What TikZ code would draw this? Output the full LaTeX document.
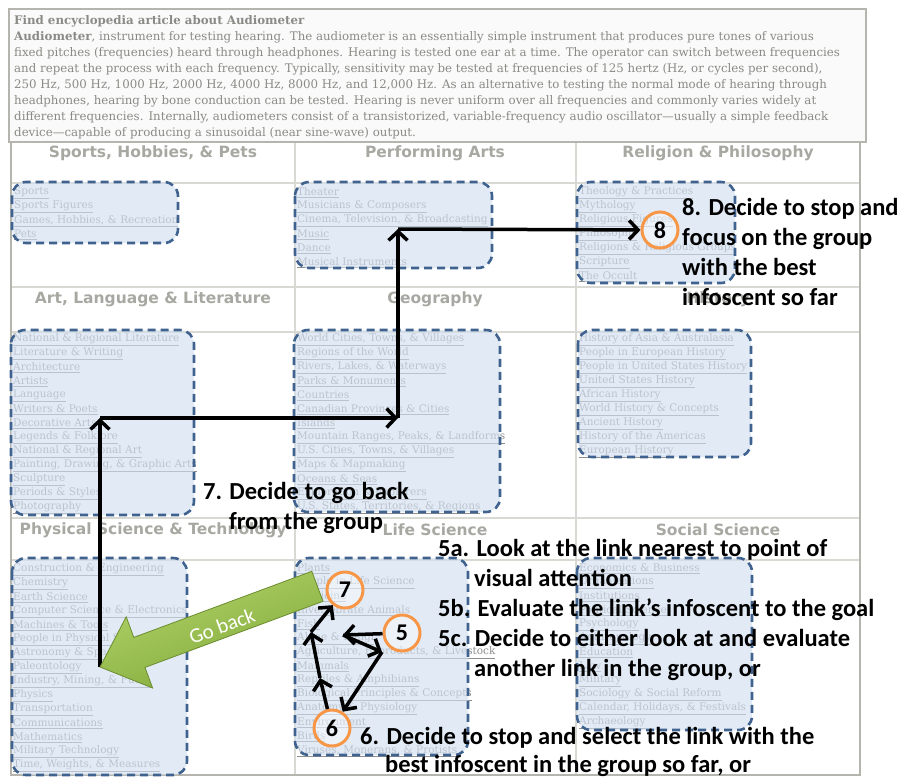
\documentclass[tikz,border=0pt]{standalone}
\usepackage{fontspec}
\usetikzlibrary{arrows.meta}

\newfontfamily\notefont{Carlito}
\newfontfamily\headfont{DejaVu Sans}
\newfontfamily\pagefont{DejaVu Serif}

\definecolor{gridgray}{HTML}{D9D9D3}
\definecolor{framegray}{HTML}{B5B5AD}
\definecolor{headgray}{HTML}{A8A8A2}
\definecolor{linkgray}{HTML}{8E8E8E}
\definecolor{pagegray}{HTML}{8A8A86}
\definecolor{boxfill}{HTML}{D3E0F0}
\definecolor{boxline}{HTML}{40628E}
\definecolor{ringorange}{HTML}{F79646}
\definecolor{golight}{HTML}{B4D56C}
\definecolor{godark}{HTML}{7EA636}

\tikzset{
  pagetext/.style={font=\pagefont\fontsize{11.8}{16}\selectfont, text=pagegray, inner sep=0pt},
  headtext/.style={font=\headfont\bfseries\fontsize{15.5}{18}\selectfont, text=headgray, inner sep=0pt},
  linktext/.style={font=\pagefont\fontsize{10.5}{14}\selectfont, text=linkgray, inner sep=0pt, anchor=west},
  groupbox/.style={draw=boxline, fill=boxfill, fill opacity=0.65, line width=2.6pt,
    dash pattern=on 8pt off 5pt, rounded corners=14pt},
  ring/.style={circle, draw=ringorange, line width=3pt, fill=white, fill opacity=0.35, text opacity=1,
    minimum size=36pt, inner sep=0pt, font=\notefont\bfseries\fontsize{24}{28}\selectfont},
  note/.style={font=\notefont\bfseries\fontsize{24.5}{30}\selectfont, inner sep=0pt, anchor=base west},
  walk/.style={line width=3.5pt, -{Straight Barb[length=9pt, width=19pt]}},
}

% one list of links, one per line
\newcommand{\linklist}[4]{%
  \foreach \t [count=\i] in {#4}
    \node[linktext] (#1\i) at (#2, {#3+14*(\i-1)}) {\underline{\t}};
}

\begin{document}
\begin{tikzpicture}[x=1pt, y=-1pt]
\useasboundingbox (0,0) rectangle (907,777);

%----- ARTICLE PANEL -----
\draw[framegray, line width=2pt, fill=black!2] (9,9) rectangle (866,142);
\node[pagetext, anchor=north west, align=left] (article) at (14,15) {%
  {\bfseries Find encyclopedia article about Audiometer}\\
  {\bfseries Audiometer}, instrument for testing hearing. The audiometer is an essentially simple instrument that produces pure tones of various\\
  fixed pitches (frequencies) heard through headphones. Hearing is tested one ear at a time. The operator can switch between frequencies\\
  and repeat the process with each frequency. Typically, sensitivity may be tested at frequencies of 125 hertz (Hz, or cycles per second),\\
  250 Hz, 500 Hz, 1000 Hz, 2000 Hz, 4000 Hz, 8000 Hz, and 12,000 Hz. As an alternative to testing the normal mode of hearing through\\
  headphones, hearing by bone conduction can be tested. Hearing is never uniform over all frequencies and commonly varies widely at\\
  different frequencies. Internally, audiometers consist of a transistorized, variable-frequency audio oscillator—usually a simple feedback\\
  device—capable of producing a sinusoidal (near sine-wave) output.};

%----- CATEGORY GRID -----
\draw[gridgray, line width=1.2pt] (295,142) -- (295,775) (576,142) -- (576,775);
\foreach \y in {183,287,332,518,560}
  \draw[gridgray, line width=1.2pt] (11,\y) -- (860,\y);
\draw[framegray, line width=2pt] (11,142) rectangle (860,775);

% headers
\node[headtext] (hsports) at (153,153) {Sports, Hobbies, \& Pets};
\node[headtext] (hperform) at (435,153) {Performing Arts};
\node[headtext] (hreligion) at (718,153) {Religion \& Philosophy};
\node[headtext] (hart) at (153,299) {Art, Language \& Literature};
\node[headtext] (hgeo) at (435,299) {Geography};
\node[headtext] (hhistory) at (718,299) {History};
\node[headtext] (hphys) at (153,530) {Physical Science \& Technology};
\node[headtext] (hlife) at (435,530) {Life Science};
\node[headtext] (hsocial) at (718,530) {Social Science};

%----- LINKS -----
\linklist{sp}{14}{193}{Sports, Sports Figures, {Games, Hobbies, \& Recreation}, Pets}
\linklist{pa}{297}{193}{Theater, Musicians \& Composers, {Cinema, Television, \& Broadcasting}, Music, Dance, Musical Instruments}
\linklist{rp}{579}{193}{Theology \& Practices, Mythology, Religious Figures, Philosophy, Religions \& Religious Groups, Scripture, The Occult}
\linklist{al}{13}{340}{National \& Regional Literature, Literature \& Writing, Architecture, Artists, Language, Writers \& Poets, Decorative Arts, Legends \& Folklore, National \& Regional Art, {Painting, Drawing, \& Graphic Arts}, Sculpture, Periods \& Styles, Photography}
\linklist{ge}{297}{340}{{World Cities, Towns, \& Villages}, Regions of the World, {Rivers, Lakes, \& Waterways}, Parks \& Monuments, Countries, Canadian Provinces \& Cities, Islands, {Mountain Ranges, Peaks, \& Landforms}, {U.S. Cities, Towns, \& Villages}, Maps \& Mapmaking, Oceans \& Seas, Exploration \& Explorers, {U.S. States, Territories, \& Regions}}
\linklist{hi}{579}{340}{History of Asia \& Australasia, People in European History, People in United States History, United States History, African History, World History \& Concepts, Ancient History, History of the Americas, European History}
\linklist{ps}{13}{570}{Construction \& Engineering, Chemistry, Earth Science, Computer Science \& Electronics, Machines \& Tools, People in Physical Science, Astronomy \& Space Science, Paleontology, {Industry, Mining, \& Fuels}, Physics, Transportation, Communications, Mathematics, Military Technology, {Time, Weights, \& Measures}}
\linklist{ls}{297}{569}{Plants, People in Life Science, Medicine, Invertebrate Animals, Fish, Algae \& Fungi, {Agriculture, Byproducts, \& Livestock}, Mammals, Reptiles \& Amphibians, Biological Principles \& Concepts, Anatomy \& Physiology, Environment, Birds, {Viruses, Monerans, \& Protists}}
\linklist{ss}{579}{569}{Economics \& Business, Organizations, Institutions, Political Science, Psychology, Anthropology, Education, Law, Military, Sociology \& Social Reform, {Calendar, Holidays, \& Festivals}, Archaeology}

%----- GROUP BOXES -----
\draw[groupbox] (12,182) rectangle (178,243);
\draw[groupbox] (295,182) rectangle (492,268);
\draw[groupbox] (577,182) rectangle (735,283);
\draw[groupbox] (11,330) rectangle (194,515);
\draw[groupbox] (294,330) rectangle (500,512);
\draw[groupbox] (578,330) rectangle (751,457);
\draw[groupbox] (12,558) rectangle (187,775);
\draw[groupbox] (295,558) rectangle (468,755);
\draw[groupbox] (577,558) rectangle (752,730);

%----- STEP CIRCLES -----
\node[ring] (c8) at (660,230) {8};
\node[ring] (c7) at (345,590) {7};
\node[ring] (c5) at (402,633) {5};
\node[ring] (c6) at (332,728) {6};

%----- WALK BETWEEN GROUPS -----
\coordinate (back) at (100,667);
\coordinate (turnA) at (100,418);
\coordinate (turnB) at (398,418);
\coordinate (turnC) at (398,229);
\draw[walk] (back) -- (turnA);
\draw[walk] (turnA) -- (turnB);
\draw[walk] (turnB) -- (turnC);
\draw[walk] (turnC) -- (c8);

% walk inside the life science group
\coordinate (w5a) at (343,635);
\coordinate (w5b) at (382,652);
\coordinate (w6a) at (320,678);
\coordinate (w6b) at (311,632);
\draw[walk] (c5) -- (w5a);
\draw[walk] (w5a) -- (w5b);
\draw[walk] (w5b) -- (c6);
\draw[walk] (c6) -- (w6a);
\draw[walk] (w6a) -- (w6b);
\draw[walk] (w6b) -- (c7);

%----- GO BACK ARROW -----
\draw[godark!85!black, line width=0.8pt, top color=golight, bottom color=godark, shading angle=20]
  (back) -- (152.6,688.0) -- (145.0,667.4) -- (323.0,601.3) -- (311.8,571.3)
  -- (133.8,637.4) -- (126.2,616.8) -- cycle;
\node[rotate=20.4, text=white, inner sep=0pt, font=\notefont\fontsize{21}{24}\selectfont] (goback) at (222,626) {Go back};

%----- STEP NOTES -----
\node[note, anchor=west, align=left] (step8) at (682,252) {8. Decide to stop and\\focus on the group\\with the best\\infoscent so far};
\node[note, anchor=center, align=center] (step7) at (306,508) {7. Decide to go back\\from the group};
\node[note] (step5a) at (438,556) {5a. Look at the link nearest to point of};
\node[note] (step5a2) at (474,586) {visual attention};
\node[note] (step5b) at (438,616) {5b. Evaluate the link’s infoscent to the goal};
\node[note] (step5c) at (438,646) {5c. Decide to either look at and evaluate};
\node[note] (step5c2) at (474,676) {another link in the group, or};
\node[note] (step6) at (360,744) {6. Decide to stop and select the link with the};
\node[note] (step6b) at (385,772) {best infoscent in the group so far, or};

\end{tikzpicture}
\end{document}
